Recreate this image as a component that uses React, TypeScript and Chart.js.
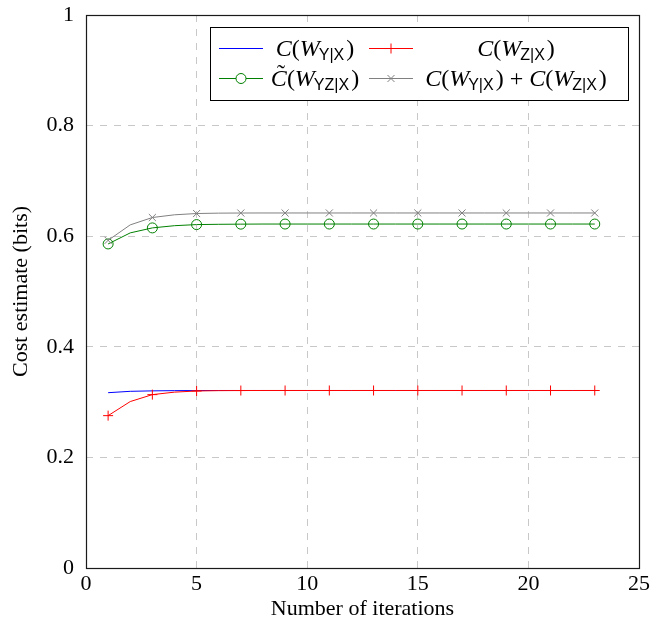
import React, { useEffect, useRef } from "react";
import { Chart, registerables } from "chart.js";

Chart.register(...registerables);

const iterations = [1, 2, 3, 4, 5, 6, 7, 8, 9, 10, 11, 12, 13, 14, 15, 16, 17, 18, 19, 20, 21, 22, 23];
const costY = [0.317, 0.3195, 0.3203, 0.3207, 0.3209, 0.321, 0.321, 0.321, 0.321, 0.321, 0.321, 0.321, 0.321, 0.321, 0.321, 0.321, 0.321, 0.321, 0.321, 0.321, 0.321, 0.321, 0.321];
const costZ = [0.2755, 0.301, 0.3135, 0.318, 0.3201, 0.3207, 0.3209, 0.321, 0.321, 0.321, 0.321, 0.321, 0.321, 0.321, 0.321, 0.321, 0.321, 0.321, 0.321, 0.321, 0.321, 0.321, 0.321];
const costYZ = [0.586, 0.606, 0.615, 0.619, 0.621, 0.6215, 0.6218, 0.622, 0.622, 0.622, 0.622, 0.622, 0.622, 0.622, 0.622, 0.622, 0.622, 0.622, 0.622, 0.622, 0.622, 0.622, 0.622];
const costSum = [0.5925, 0.6205, 0.6338, 0.6387, 0.641, 0.6417, 0.6419, 0.642, 0.642, 0.642, 0.642, 0.642, 0.642, 0.642, 0.642, 0.642, 0.642, 0.642, 0.642, 0.642, 0.642, 0.642, 0.642];

const yTickLabels: Record<string, string> = { "0.0": "0", "0.2": "0.2", "0.4": "0.4", "0.6": "0.6", "0.8": "0.8", "1.0": "1" };

const xTitle = "Number of iterations";
const yTitle = "Cost estimate (bits)";

const SERIF = '"Liberation Serif", "Times New Roman", serif';
const FONT_SIZE = 22;
const LEGEND_SIZE = 24;

type Piece = [string, "i" | "r" | "s" | "g"];

const legendRows: { color: string; marker: string; pieces: Piece[]; tilde?: boolean }[][] = [
  [
    { color: "#0000ff", marker: "none", pieces: [["C", "i"], ["(", "r"], ["W", "i"], ["Y|X", "s"], [")", "r"]] },
    { color: "#ff0000", marker: "cross", pieces: [["C", "i"], ["(", "r"], ["W", "i"], ["Z|X", "s"], [")", "r"]] },
  ],
  [
    { color: "#008000", marker: "circle", tilde: true, pieces: [["C", "i"], ["(", "r"], ["W", "i"], ["YZ|X", "s"], [")", "r"]] },
    {
      color: "#808080",
      marker: "crossRot",
      pieces: [["C", "i"], ["(", "r"], ["W", "i"], ["Y|X", "s"], [")", "r"], ["+", "g"], ["C", "i"], ["(", "r"], ["W", "i"], ["Z|X", "s"], [")", "r"]],
    },
  ],
];

function fontFor(kind: string) {
  if (kind === "i") return `italic ${LEGEND_SIZE}px ${SERIF}`;
  if (kind === "s") return `16px "Liberation Sans", "DejaVu Sans", sans-serif`;
  return `${LEGEND_SIZE}px ${SERIF}`;
}

function drawMath(ctx: CanvasRenderingContext2D, pieces: Piece[], cx: number, baseline: number, tilde?: boolean) {
  const widths = pieces.map(([t, k]) => {
    ctx.font = fontFor(k);
    const w = ctx.measureText(t).width;
    return k === "g" ? w + 12 : k === "s" ? w + 1 : w;
  });
  const total = widths.reduce((a, b) => a + b, 0);
  let x = cx - total / 2;
  ctx.fillStyle = "#000";
  ctx.textBaseline = "alphabetic";
  ctx.textAlign = "left";
  pieces.forEach(([t, k], i) => {
    ctx.font = fontFor(k);
    const dy = k === "s" ? 4 : 0;
    const dx = k === "g" ? 6 : k === "s" ? -1 : 0;
    ctx.fillText(t, x + dx, baseline + dy);
    if (i === 0 && tilde) {
      ctx.font = `${LEGEND_SIZE}px ${SERIF}`;
      const tw = ctx.measureText("\u02DC").width;
      ctx.fillText("\u02DC", x + widths[0] / 2 - tw / 2 + 2, baseline - 5);
    }
    x += widths[i];
  });
}

function drawMarker(ctx: CanvasRenderingContext2D, style: string, x: number, y: number, color: string) {
  ctx.strokeStyle = color;
  ctx.lineWidth = 1;
  ctx.beginPath();
  if (style === "cross") {
    ctx.moveTo(x - 5, y);
    ctx.lineTo(x + 5, y);
    ctx.moveTo(x, y - 5);
    ctx.lineTo(x, y + 5);
  } else if (style === "circle") {
    ctx.fillStyle = "#fff";
    ctx.arc(x, y, 5, 0, Math.PI * 2);
    ctx.fill();
  } else if (style === "crossRot") {
    const d = 3.5;
    ctx.moveTo(x - d, y - d);
    ctx.lineTo(x + d, y + d);
    ctx.moveTo(x - d, y + d);
    ctx.lineTo(x + d, y - d);
  }
  ctx.stroke();
}

const framePlugin = {
  id: "frameAndLegend",
  afterDraw(chart: any) {
    const { ctx, chartArea } = chart;
    const { left, right, top, bottom } = chartArea;
    ctx.save();
    ctx.strokeStyle = "#1a1a1a";
    ctx.lineWidth = 1.2;
    ctx.setLineDash([]);
    ctx.strokeRect(Math.round(left) + 0.5, Math.round(top) + 0.5, Math.round(right - left), Math.round(bottom - top));

    // legend box
    const bw = 418;
    const bh = 73;
    const bx = Math.round(right) - 11 - bw;
    const by = Math.round(top) + 12;
    ctx.fillStyle = "#fff";
    ctx.fillRect(bx, by, bw, bh);
    ctx.strokeStyle = "#000";
    ctx.lineWidth = 1;
    ctx.strokeRect(bx + 0.5, by + 0.5, bw, bh);

    const rowY = [by + 21, by + 51];
    const lineX = [
      [bx + 9, bx + 53],
      [bx + 159, bx + 203],
    ];
    const textCx = [bx + 105, bx + 306];
    legendRows.forEach((row, r) => {
      row.forEach((entry, c) => {
        const y = rowY[r];
        ctx.strokeStyle = entry.color;
        ctx.lineWidth = 1;
        ctx.beginPath();
        ctx.moveTo(lineX[c][0], y + 0.5);
        ctx.lineTo(lineX[c][1], y + 0.5);
        ctx.stroke();
        drawMarker(ctx, entry.marker, (lineX[c][0] + lineX[c][1]) / 2, y + 0.5, entry.color);
        drawMath(ctx, entry.pieces, textCx[c], y + 8, entry.tilde);
      });
    });
    ctx.restore();
  },
};

const markerRadius = (r: number) => (c: any) => (c.dataIndex % 2 === 0 ? r : 0);

export default function App() {
  const ref = useRef<HTMLCanvasElement>(null);
  useEffect(() => {
    document.body.style.margin = "0";
    const canvas = ref.current;
    if (!canvas) return;
    const toPts = (arr: number[]) => iterations.map((x, i) => ({ x, y: arr[i] }));
    const tickFont = { family: SERIF, size: FONT_SIZE };
    const chart = new Chart(canvas, {
      type: "line",
      data: {
        datasets: [
          {
            label: "C(W_Y|X)",
            data: toPts(costY),
            borderColor: "#0000ff",
            backgroundColor: "#0000ff",
            borderWidth: 1,
            pointRadius: 0,
            tension: 0,
            order: 4,
          },
          {
            label: "C(W_Z|X)",
            data: toPts(costZ),
            borderColor: "#ff0000",
            backgroundColor: "#ff0000",
            borderWidth: 1,
            pointStyle: "cross",
            pointRadius: markerRadius(5),
            pointBorderWidth: 1,
            pointBorderColor: "#ff0000",
            tension: 0,
            order: 3,
          },
          {
            label: "C~(W_YZ|X)",
            data: toPts(costYZ),
            borderColor: "#008000",
            backgroundColor: "rgba(255,255,255,0)",
            borderWidth: 1,
            pointStyle: "circle",
            pointRadius: markerRadius(5),
            pointBorderWidth: 1,
            pointBorderColor: "#008000",
            pointBackgroundColor: "rgba(255,255,255,0)",
            tension: 0,
            order: 2,
          },
          {
            label: "C(W_Y|X)+C(W_Z|X)",
            data: toPts(costSum),
            borderColor: "#808080",
            backgroundColor: "#808080",
            borderWidth: 1,
            pointStyle: "crossRot",
            pointRadius: markerRadius(5),
            pointBorderWidth: 1,
            pointBorderColor: "#808080",
            tension: 0,
            order: 1,
          },
        ],
      },
      options: {
        responsive: false,
        animation: false,
        devicePixelRatio: 1,
        layout: { padding: { top: 15, right: 13, left: 0, bottom: 0 } },
        plugins: { legend: { display: false }, tooltip: { enabled: false } },
        scales: {
          x: {
            type: "linear",
            min: 0,
            max: 25,
            ticks: { stepSize: 5, font: tickFont, color: "#000", padding: 3 },
            grid: { color: "#c8c8c8", drawTicks: false, lineWidth: 1 },
            border: { display: false, dash: [7, 7] },
            title: { display: true, text: xTitle, font: tickFont, color: "#000", padding: { top: 0, bottom: 6 } },
            afterFit: (s: any) => {
              s.height = 60;
              s.paddingLeft = 0;
              s.paddingRight = 0;
            },
          },
          y: {
            type: "linear",
            min: 0,
            max: 1,
            ticks: {
              stepSize: 0.2,
              font: tickFont,
              color: "#000",
              padding: 12,
              callback: (v: any) => yTickLabels[Number(v).toFixed(1)] ?? String(v),
            },
            grid: { color: "#c8c8c8", drawTicks: false, lineWidth: 1 },
            border: { display: false, dash: [7, 7] },
            title: { display: true, text: yTitle, font: tickFont, color: "#000", padding: { top: 8, bottom: 0 } },
            afterFit: (s: any) => {
              s.width = 86;
              s.paddingTop = 0;
              s.paddingBottom = 0;
            },
          },
        },
      },
      plugins: [framePlugin],
    });
    return () => chart.destroy();
  }, []);
  return (
    <div style={{ width: 652, height: 628 }}>
      <canvas ref={ref} width={652} height={628} style={{ display: "block" }} />
    </div>
  );
}
